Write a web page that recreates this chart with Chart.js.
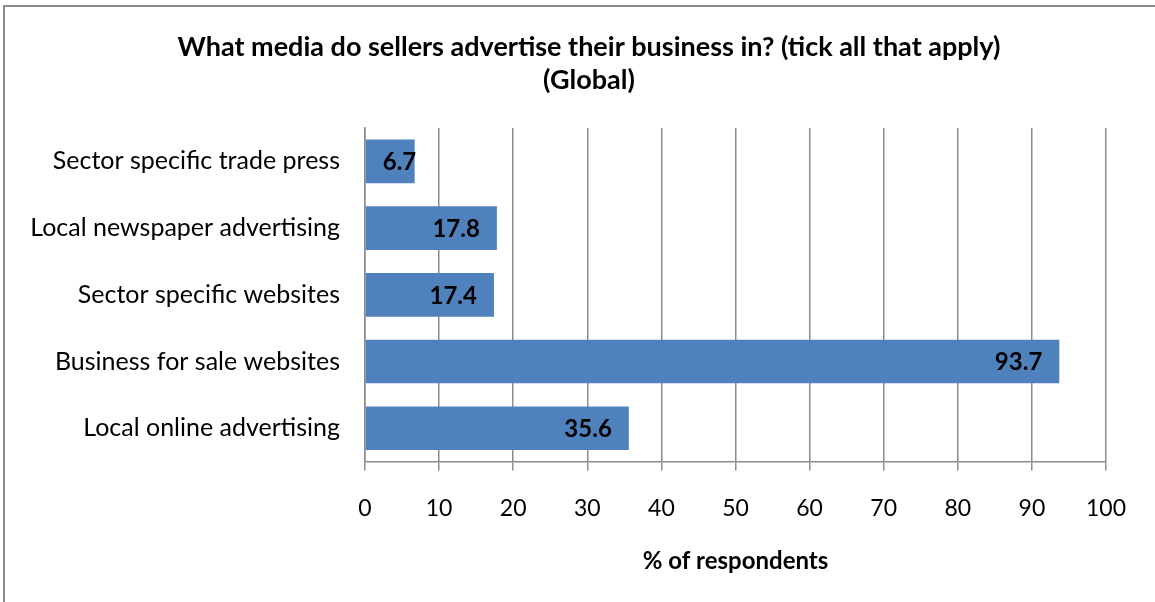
<!DOCTYPE html>
<html>
<head>
<meta charset="utf-8">
<style>
  html, body { margin: 0; padding: 0; background: #fff; }
  #frame {
    position: absolute; left: 3px; top: 5px; width: 1160px; height: 610px;
    border-left: 2px solid #8a8a8a; border-top: 2px solid #8a8a8a;
  }
  #wrap { position: absolute; left: 0; top: 0; width: 1155px; height: 602px; }
</style>
</head>
<body>
<div id="frame"></div>
<div id="wrap"><canvas id="myChart" width="1155" height="602"></canvas></div>

<script src="https://cdn.jsdelivr.net/npm/chart.js"></script>

<script>
    const categories = [
        'Sector specific trade press',
        'Local newspaper advertising',
        'Sector specific websites',
        'Business for sale websites',
        'Local online advertising'
    ];
    const respondents = [6.7, 17.8, 17.4, 93.7, 35.6];
    const xTicks = [0, 10, 20, 30, 40, 50, 60, 70, 80, 90, 100];
    const titleLines = ['What media do sellers advertise their business in? (tick all that apply)', '(Global)'];

    const FONT = 'Lato, "Open Sans", sans-serif';

    // value labels drawn at the inside end of each bar
    const barLabels = {
        id: 'barLabels',
        afterDatasetsDraw(chart) {
            const ctx = chart.ctx;
            const meta = chart.getDatasetMeta(0);
            ctx.save();
            ctx.font = 'bold 24px ' + FONT;
            ctx.fillStyle = '#000';
            ctx.textAlign = 'right';
            ctx.textBaseline = 'middle';
            meta.data.forEach((bar, i) => {
                const txt = respondents[i].toFixed(1);
                const w = ctx.measureText(txt).width;
                const x = Math.max(bar.x - 17, bar.base + 17 + w);
                ctx.fillText(txt, x, bar.y + 1);
            });
            ctx.restore();
        }
    };

    // two-line heading, centred a bit left of the plot
    const heading = {
        id: 'heading',
        afterDraw(chart) {
            const ctx = chart.ctx;
            ctx.save();
            ctx.font = 'bold 27px ' + FONT;
            ctx.fillStyle = '#000';
            ctx.textAlign = 'center';
            ctx.textBaseline = 'middle';
            titleLines.forEach((t, i) => ctx.fillText(t, 589, 47 + i * 33));
            ctx.restore();
        }
    };

    const ctx = document.getElementById('myChart');

    new Chart(ctx, {
        type: 'bar',
        data: {
            labels: categories,
            datasets: [{
                label: '% of respondents',
                data: respondents,
                backgroundColor: '#4f81bd',
                borderWidth: 0,
                categoryPercentage: 0.655,
                barPercentage: 1
            }]
        },
        options: {
            indexAxis: 'y',
            responsive: false,
            animation: false,
            layout: { padding: { left: 20, right: 49, top: 128, bottom: 26 } },
            plugins: {
                legend: { display: false },
                tooltip: { enabled: false },
                title: { display: false }
            },
            scales: {
                x: {
                    min: 0,
                    max: 100,
                    afterBuildTicks(scale) {
                        scale.ticks = xTicks.map(v => ({ value: v }));
                    },
                    grid: {
                        color: '#8c8c8c',
                        lineWidth: 1.5,
                        tickLength: 9,
                        drawTicks: true
                    },
                    border: { color: '#8c8c8c', width: 1.5 },
                    ticks: {
                        color: '#000',
                        padding: 24,
                        font: { family: FONT, size: 23 }
                    },
                    title: {
                        display: true,
                        text: '% of respondents',
                        color: '#000',
                        font: { family: FONT, size: 24, weight: 'bold' },
                        padding: { top: 1, bottom: 0 }
                    }
                },
                y: {
                    afterFit(scale) { scale.width = 345; },
                    grid: { display: false, drawTicks: false },
                    border: { color: '#8c8c8c', width: 1.5 },
                    ticks: {
                        color: '#000',
                        padding: 25,
                        font: { family: FONT, size: 25 }
                    }
                }
            }
        },
        plugins: [barLabels, heading]
    });
</script>
</body>
</html>
